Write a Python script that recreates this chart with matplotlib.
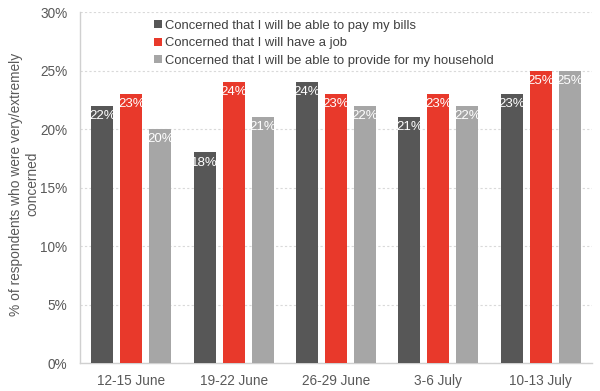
import numpy as np
import matplotlib.pyplot as plt

plt.rcParams['font.family'] = ['Liberation Sans', 'DejaVu Sans']

weeks = ['12-15 June', '19-22 June', '26-29 June', '3-6 July', '10-13 July']
bills = [22, 18, 24, 21, 23]
job = [23, 24, 23, 23, 25]
household = [20, 21, 22, 22, 25]
series_names = ['Concerned that I will be able to pay my bills',
                'Concerned that I will have a job',
                'Concerned that I will be able to provide for my household']
colors = ['#575757', '#e8392b', '#a6a6a6']

fig = plt.figure(figsize=(6, 3.91), dpi=100)
ax = fig.add_axes([0.1333, 0.0716, 0.8534, 0.8974])

x = np.arange(len(weeks))
w = 0.215
step = 0.283
for i, (vals, c, name) in enumerate(zip([bills, job, household], colors, series_names)):
    pos = x + (i - 1) * step
    ax.bar(pos, vals, width=w, color=c, label=name, zorder=3)
    for p, v in zip(pos, vals):
        ax.text(p, v - 0.35, f'{v}%', ha='center', va='top', color='white',
                fontsize=9.5, zorder=4)

ax.set_xlim(-0.5, len(weeks) - 0.5)
ax.set_ylim(0, 30)
ax.set_yticks(range(0, 31, 5))
ax.set_yticklabels([f'{t}%' for t in range(0, 31, 5)])
ax.set_xticks(x)
ax.set_xticklabels(weeks)
ax.tick_params(axis='both', length=0, labelsize=9.8, colors='#595959', pad=8)
ax.tick_params(axis='y', pad=9)
ax.yaxis.grid(True, linestyle=(0, (2, 2)), color='#d9d9d9', linewidth=0.8, zorder=0)
for s in ['top', 'right']:
    ax.spines[s].set_visible(False)
for s in ['left', 'bottom']:
    ax.spines[s].set_color('#d0d0d0')
    ax.spines[s].set_linewidth(1)

ax.set_ylabel('% of respondents who were very/extremely\nconcerned', fontsize=9.9,
              color='#595959')
ax.yaxis.set_label_coords(-0.079, 0.51)

leg = ax.legend(loc='upper left', bbox_to_anchor=(0.13, 1.0), frameon=False,
                fontsize=9.4, handlelength=0.55, handleheight=0.55, handletextpad=0.3,
                labelspacing=0.42, borderaxespad=0.2)
for t in leg.get_texts():
    t.set_color('#404040')

fig.savefig('out.png', dpi=100)
